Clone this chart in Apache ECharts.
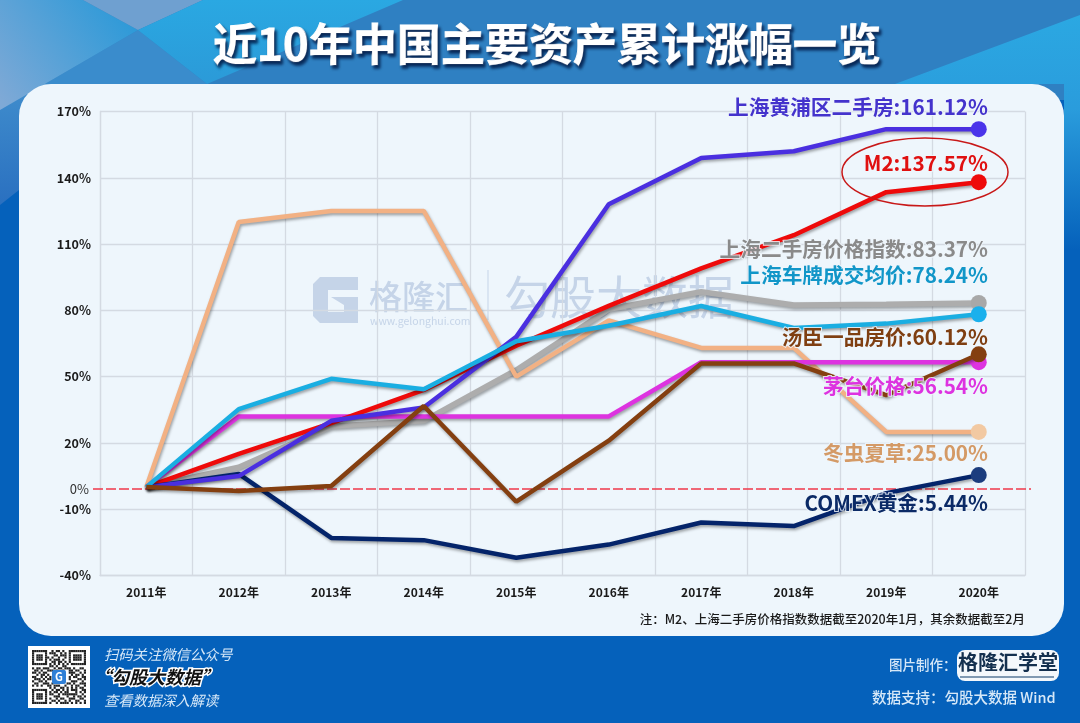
<!DOCTYPE html>
<html>
<head>
<meta charset="utf-8">
<title>近10年中国主要资产累计涨幅一览</title>
<script src="https://cdn.jsdelivr.net/npm/echarts@6/dist/echarts.min.js"></script>
<style>
html,body{margin:0;padding:0;background:#0561bb;}
#main{width:1080px;height:723px;}
</style>
</head>
<body>
<div id="main"></div>
<script>
var FONT='"Noto Sans CJK SC","Noto Sans",sans-serif';

var years=['2011年','2012年','2013年','2014年','2015年','2016年','2017年','2018年','2019年','2020年'];
var huangpu=[0,5,30,36,68,128,149,152,162,162];
var m2=[0,15,29,44,64,82,99,114,133.5,138];
var sh_index=[0,9,27.6,30,53,80.5,88.4,82.4,82.8,83.37];
var chepai=[0,35.3,49,44.3,66,73,82,72,74,78.24];
var chongcao=[0,120,125,125,50,75.5,63,63,25,25];
var maotai=[0,32,32,32,32,32,56.54,56.54,56.54,56.54];
var tangchen=[0,-1.8,0.5,36.7,-6.6,21,56,56,41.6,60.12];
var comex=[0,6,-23,-24,-32,-26,-16,-17.6,-2.7,5.44];

// 画线顺序：先画的在下面
var lines=[
	{name:'上海二手房价格指数',data:sh_index,color:'#adadad',dot:'#a8a8a8',width:5.5},
	{name:'冬虫夏草',data:chongcao,color:'#f2b184',dot:'#f2c9a2',width:4.5},
	{name:'茅台价格',data:maotai,color:'#dd33e0',dot:'#dd33e0',width:4.5},
	{name:'M2',data:m2,color:'#ee0a0a',dot:'#ee0a0a',width:4.5},
	{name:'COMEX黄金',data:comex,color:'#04246a',dot:'#1c3d7e',width:4.5},
	{name:'上海黄浦区二手房',data:huangpu,color:'#4a2fe0',dot:'#4a34ea',width:4.5},
	{name:'上海车牌成交均价',data:chepai,color:'#1aaee2',dot:'#1ab0ec',width:4.5},
	{name:'汤臣一品房价',data:tangchen,color:'#843f10',dot:'#843f10',width:4.5}
];

// 线尾的文字：[文字,颜色,y]
var endTexts=[
	['上海黄浦区二手房:161.12%','#4433cc',107],
	['M2:137.57%','#e01010',163],
	['上海二手房价格指数:83.37%','#8a8a8a',249],
	['上海车牌成交均价:78.24%','#1196c8',275],
	['汤臣一品房价:60.12%','#7f3f12',337],
	['茅台价格:56.54%','#dd33e0',386],
	['冬虫夏草:25.00%','#d49a66',453],
	['COMEX黄金:5.44%','#0b2a66',503]
];

var seriesList=[];
for (var i=0;i<lines.length;i++){
	seriesList.push({
		name:lines[i].name,
		type:'line',
		data:lines[i].data,
		z:3+i,
		showAllSymbol:true,
		symbol:function(v,p){
			return p.dataIndex==years.length-1?'circle':'none';
		},
		symbolSize:16,
		itemStyle:{color:lines[i].dot},
		lineStyle:{
			color:lines[i].color,
			width:lines[i].width,
			shadowColor:'rgba(0,0,0,0.35)',
			shadowBlur:3,
			shadowOffsetX:1,
			shadowOffsetY:2
		},
		animation:false,
		silent:true
	});
}
// 0%虚线比格子线长，挂在最下面那条线上
seriesList[0].markLine={
	silent:true,
	symbol:'none',
	animation:false,
	label:{show:false},
	lineStyle:{color:'#f0384a',width:1.6,type:[10,3]},
	data:[[{x:93,y:489},{x:1031,y:489}]]
};

function g_text(t,x,y,size,color,extra){
	var st={text:t,x:x,y:y,fontSize:size,fontFamily:FONT,fill:color,align:'left',verticalAlign:'middle'};
	for (var k in extra){ st[k]=extra[k]; }
	return {type:'text',z:200,style:st};
}

// 背景
var bg=[
	{type:'rect',z:-30,shape:{x:0,y:0,width:1080,height:723},style:{fill:'#0561bb'}},
	{type:'rect',z:-29,shape:{x:0,y:0,width:1080,height:100},style:{fill:'#2f80c2'}},
	// 左边竖条
	{type:'polygon',z:-29,shape:{points:[[0,100],[60,84],[19,190],[0,205]]},style:{fill:new echarts.graphic.LinearGradient(0,90,0,205,[
		{offset:0,color:'#3f8ccc'},{offset:1,color:'#2a70c0'}],true)}},
	// 左上
	{type:'polygon',z:-28,shape:{points:[[0,84],[207,84],[138,30],[0,110]]},style:{fill:'#3a8ccc'}},
	{type:'polygon',z:-27,shape:{points:[[0,0],[83,0],[138,30],[0,110]]},style:{fill:new echarts.graphic.LinearGradient(120,10,0,100,[
		{offset:0,color:'#2f9ad8'},{offset:1,color:'#7fa9d6'}],true)}},
	{type:'polygon',z:-27,shape:{points:[[83,0],[203,0],[138,30]]},style:{fill:'#6fa0d0'}},
	{type:'polygon',z:-27,shape:{points:[[203,0],[403,0],[207,84],[138,30]]},style:{fill:new echarts.graphic.LinearGradient(0,0,0,84,[
		{offset:0,color:'#2aa8e2'},{offset:1,color:'#2b9ad8'}],true)}},
	// 右上
	{type:'polygon',z:-27,shape:{points:[[895,84],[1080,15],[1080,300],[1064,300],[1064,84]]},style:{fill:new echarts.graphic.LinearGradient(0,15,0,250,[
		{offset:0,color:'#2ba8e2'},{offset:0.4,color:'#2a9cdc'},{offset:1,color:'#0561bb'}],true)}},
	// 卡片
	{type:'rect',z:-20,shape:{x:19,y:84,width:1045,height:552,r:32},style:{fill:'#eef6fc'}}
];

// 水印
var wm='#c5d4e8';
var watermark=[
	{type:'polygon',z:-10,shape:{points:[[320,277],[358,277],[358,290],[328,290],[328,312],[344,312],[344,305],[331,297],[358,297],[358,323],[320,323],[313,316],[313,284]]},style:{fill:wm}},
	{type:'text',z:-10,style:{text:'格隆汇',x:369,y:296,fontSize:33,fontWeight:500,fontFamily:FONT,fill:wm,verticalAlign:'middle'}},
	{type:'text',z:-10,style:{text:'www.gelonghui.com',x:370,y:321,fontSize:10.5,fontFamily:FONT,fill:wm,verticalAlign:'middle'}},
	{type:'line',z:-10,shape:{x1:488,y1:270,x2:488,y2:320},style:{stroke:wm,lineWidth:1}},
	{type:'text',z:-10,style:{text:'勾股大数据',x:504,y:297,fontSize:46,fontFamily:FONT,fill:wm,verticalAlign:'middle'}}
];

// 二维码，手写的点阵
var qr=[
	'1111111001011010011111111',
	'1000001011100101010000001',
	'1011101000110111010111101',
	'1011101101001001010111101',
	'1011101010111010010111101',
	'1000001001101101010000001',
	'1111111010101010101111111',
	'0000000011010011000000000',
	'1011011100101101110100110',
	'0110100111010010011011001',
	'1101011000000000011100101',
	'0010110100000000001011010',
	'1100101010000000010110011',
	'0111010110000000010001101',
	'1001101000000000001110010',
	'0110011101000000110100111',
	'1010100110111001001011001',
	'0000000010100110101010110',
	'1111111001011010101110011',
	'1000001010110101100010101',
	'1011101011001011111110010',
	'1011101000111000100101101',
	'1011101010010110011100110',
	'1000001001101001010011001',
	'1111111010010111101010101'
];
var qrCells=[{type:'rect',z:90,shape:{x:28,y:646,width:62,height:62},style:{fill:'#ffffff'}}];
for (var r=0;r<qr.length;r++){
	for (var c=0;c<qr[r].length;c++){
		if (qr[r].charAt(c)=='1'){
			qrCells.push({type:'rect',z:91,shape:{x:32+c*2.16,y:650+r*2.16,width:2.16,height:2.16},style:{fill:'#222222'}});
		}
	}
}
qrCells.push({type:'rect',z:92,shape:{x:52,y:670,width:14,height:14,r:2},style:{fill:'#2f7fd6'}});
qrCells.push({type:'text',z:93,style:{text:'G',x:59,y:677,fontSize:11,fontWeight:'bold',fontFamily:FONT,fill:'#ffffff',align:'center',verticalAlign:'middle'}});

var others=[
	g_text('近10年中国主要资产累计涨幅一览',547,44,44,'#ffffff',{align:'center',fontWeight:'bold',stroke:'#ffffff',lineWidth:1,textShadowColor:'rgba(0,25,70,0.9)',textShadowBlur:3,textShadowOffsetX:2,textShadowOffsetY:3}),
	g_text('注：M2、上海二手房价格指数数据截至2020年1月，其余数据截至2月',1025,619,12.5,'#1a1a1a',{align:'right',fontWeight:500}),
	g_text('扫码关注微信公众号',104,655,14.3,'#d6e8f8',{fontStyle:'italic'}),
	g_text('“勾股大数据”',93,677,18,'#111111',{fontStyle:'italic',fontWeight:'bold',stroke:'#ffffff',lineWidth:3}),
	g_text('查看数据深入解读',104,701,14.3,'#d6e8f8',{fontStyle:'italic'}),
	g_text('图片制作：',889,665,13.5,'#d6e8f8',{fontWeight:500}),
	g_text('数据支持：勾股大数据 Wind',872,697,14.5,'#d6e8f8',{fontWeight:500}),
	{type:'rect',z:90,shape:{x:957,y:650,width:102,height:31,r:8},style:{fill:'#f4f8fc'}},
	g_text('格隆汇学堂',958,662,20,'#14304f',{fontWeight:'bold'}),
	{type:'line',z:201,shape:{x1:960,y1:677,x2:1054,y2:677},style:{stroke:'#5a7a9a',lineWidth:1.5}},
	// M2的圈
	{type:'ellipse',z:190,shape:{cx:925,cy:172,rx:83,ry:34},style:{fill:'none',stroke:'#c81818',lineWidth:1.5}},
	g_text('0%',89,489.5,13,'#333333',{align:'right'})
];
for (var i=0;i<endTexts.length;i++){
	others.push(g_text(endTexts[i][0],988,endTexts[i][2],20.7,endTexts[i][1],{align:'right',fontWeight:'bold',stroke:'rgba(238,246,252,0.85)',lineWidth:2}));
}

var myChart=echarts.init(document.getElementById('main'),null,{renderer:'canvas'});
var option={
	animation:false,
	grid:{left:100,right:55,top:111.5,bottom:147.5,containLabel:false},
	xAxis:{
		type:'category',
		data:years,
		boundaryGap:true,
		axisLine:{show:true,onZero:false,lineStyle:{color:'#d4dae2',width:1.3}},
		axisTick:{show:false},
		splitLine:{show:true,lineStyle:{color:'#d4dae2',width:1.3}},
		axisLabel:{color:'#1a1a1a',fontSize:12,fontWeight:'bold',fontFamily:FONT,margin:11,interval:0}
	},
	yAxis:{
		type:'value',
		min:-40,
		max:170,
		interval:30,
		axisLine:{show:true,lineStyle:{color:'#d4dae2',width:1.3}},
		axisTick:{show:false},
		splitLine:{show:true,lineStyle:{color:'#d4dae2',width:1.3}},
		axisLabel:{color:'#1a1a1a',fontSize:12.5,fontWeight:'bold',fontFamily:FONT,margin:9,formatter:'{value}%'}
	},
	series:seriesList,
	graphic:{elements:bg.concat(watermark,qrCells,others)}
};
myChart.setOption(option);
</script>
</body>
</html>
